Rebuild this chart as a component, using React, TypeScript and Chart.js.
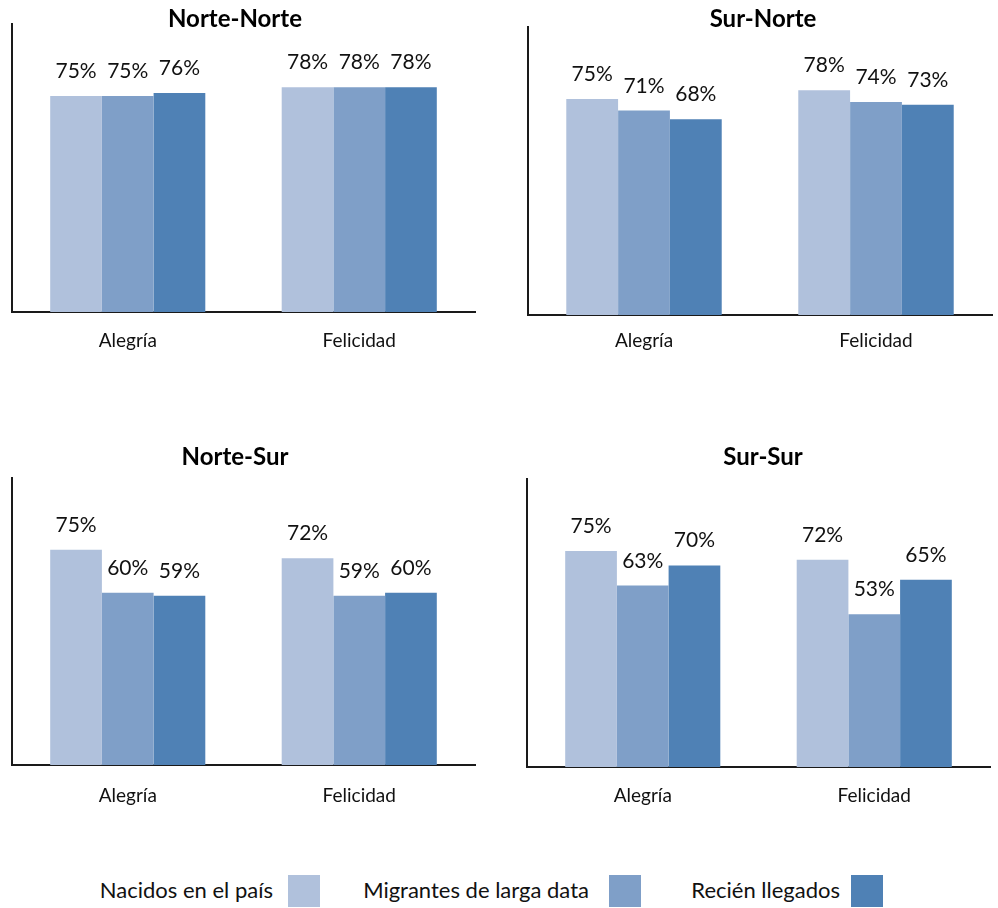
import React, { useEffect, useRef } from "react";
import { Chart, registerables } from "chart.js";

Chart.register(...registerables);

// ---- data ----
const categories = ["Alegría", "Felicidad"];
const seriesNames = ["Nacidos en el país", "Migrantes de larga data", "Recién llegados"];
const seriesColors = ["#B0C1DC", "#7F9FC8", "#4F81B5"];

const panelTitles = ["Norte-Norte", "Sur-Norte", "Norte-Sur", "Sur-Sur"];

const norteNorteNacidos = [75, 78];
const norteNorteMigrantes = [75, 78];
const norteNorteRecien = [76, 78];

const surNorteNacidos = [75, 78];
const surNorteMigrantes = [71, 74];
const surNorteRecien = [68, 73];

const norteSurNacidos = [75, 72];
const norteSurMigrantes = [60, 59];
const norteSurRecien = [59, 60];

const surSurNacidos = [75, 72];
const surSurMigrantes = [63, 53];
const surSurRecien = [70, 65];

const panelSeries = [
  [norteNorteNacidos, norteNorteMigrantes, norteNorteRecien],
  [surNorteNacidos, surNorteMigrantes, surNorteRecien],
  [norteSurNacidos, norteSurMigrantes, norteSurRecien],
  [surSurNacidos, surSurMigrantes, surSurRecien],
];

// ---- layout (positions only) ----
const panels = [
  { left: 0, top: 0, width: 477, height: 362, padTop: 24, tickPad: 17, titleX: 235, titleTop: 6 },
  { left: 516, top: 0, width: 478, height: 365, padTop: 27, tickPad: 14, titleX: 763, titleTop: 6 },
  { left: 0, top: 440, width: 477, height: 375, padTop: 38, tickPad: 19, titleX: 235, titleTop: 444 },
  { left: 515, top: 440, width: 477, height: 377, padTop: 39, tickPad: 17, titleX: 763, titleTop: 444 },
];

const legendLayout = [
  { textRight: 273, swatchLeft: 288 },
  { textRight: 589, swatchLeft: 609 },
  { textRight: 840, swatchLeft: 851 },
];

const FONT = "Lato, 'Open Sans', sans-serif";

const barLabels = {
  id: "barLabels",
  afterDatasetsDraw(chart: any) {
    const ctx = chart.ctx;
    ctx.save();
    ctx.font = `21px ${FONT}`;
    ctx.fillStyle = "#111";
    ctx.textAlign = "center";
    ctx.textBaseline = "alphabetic";
    chart.data.datasets.forEach((ds: any, i: number) => {
      const meta = chart.getDatasetMeta(i);
      meta.data.forEach((bar: any, j: number) => {
        ctx.fillText(`${ds.data[j]}%`, bar.x, bar.y - 18);
      });
    });
    ctx.restore();
  },
};

function Panel({ index }: { index: number }) {
  const ref = useRef<HTMLCanvasElement | null>(null);
  const p = panels[index];
  useEffect(() => {
    if (!ref.current) return;
    const chart = new Chart(ref.current, {
      type: "bar",
      data: {
        labels: categories,
        datasets: panelSeries[index].map((vals, i) => ({
          label: seriesNames[i],
          data: vals,
          backgroundColor: seriesColors[i],
          borderWidth: 0,
          categoryPercentage: 0.67,
          barPercentage: 1,
        })),
      },
      options: {
        responsive: false,
        animation: false,
        layout: { padding: { top: p.padTop, right: 2, left: 0, bottom: 0 } },
        plugins: {
          legend: { display: false },
          title: { display: false },
          tooltip: { enabled: false },
        },
        scales: {
          x: {
            grid: { display: false, drawTicks: false },
            border: { display: true, color: "#1a1a1a", width: 2 },
            ticks: {
              font: { family: FONT, size: 19 },
              color: "#111",
              padding: p.tickPad,
              maxRotation: 0,
              autoSkip: false,
            },
            afterFit: (s: any) => {
              s.height = 50;
            },
          },
          y: {
            min: 0,
            max: 100,
            ticks: { display: false },
            grid: { display: false, drawTicks: false },
            border: { display: true, color: "#1a1a1a", width: 2 },
            afterFit: (s: any) => {
              s.width = 12;
            },
          },
        },
      } as any,
      plugins: [barLabels],
    });
    return () => chart.destroy();
  }, [index]);
  return (
    <>
      <canvas
        ref={ref}
        width={p.width}
        height={p.height}
        style={{ position: "absolute", left: p.left, top: p.top, width: p.width, height: p.height }}
      />
      <div
        style={{
          position: "absolute",
          left: p.titleX - 150,
          top: p.titleTop,
          width: 300,
          textAlign: "center",
          fontFamily: FONT,
          fontWeight: 700,
          fontSize: 24,
          lineHeight: "24px",
          color: "#000",
        }}
      >
        {panelTitles[index]}
      </div>
    </>
  );
}

export default function App() {
  return (
    <div style={{ position: "absolute", left: 0, top: 0, width: 998, height: 908, background: "#fff", overflow: "hidden" }}>
      {panels.map((_, i) => (
        <Panel key={i} index={i} />
      ))}
      {seriesNames.map((name, i) => (
        <React.Fragment key={name}>
          <div
            style={{
              position: "absolute",
              left: legendLayout[i].textRight - 300,
              top: 879,
              width: 300,
              textAlign: "right",
              fontFamily: FONT,
              fontSize: 22,
              lineHeight: "22px",
              color: "#111",
              whiteSpace: "nowrap",
            }}
          >
            {name}
          </div>
          <div
            style={{
              position: "absolute",
              left: legendLayout[i].swatchLeft,
              top: 875,
              width: 32,
              height: 32,
              background: seriesColors[i],
            }}
          />
        </React.Fragment>
      ))}
    </div>
  );
}
